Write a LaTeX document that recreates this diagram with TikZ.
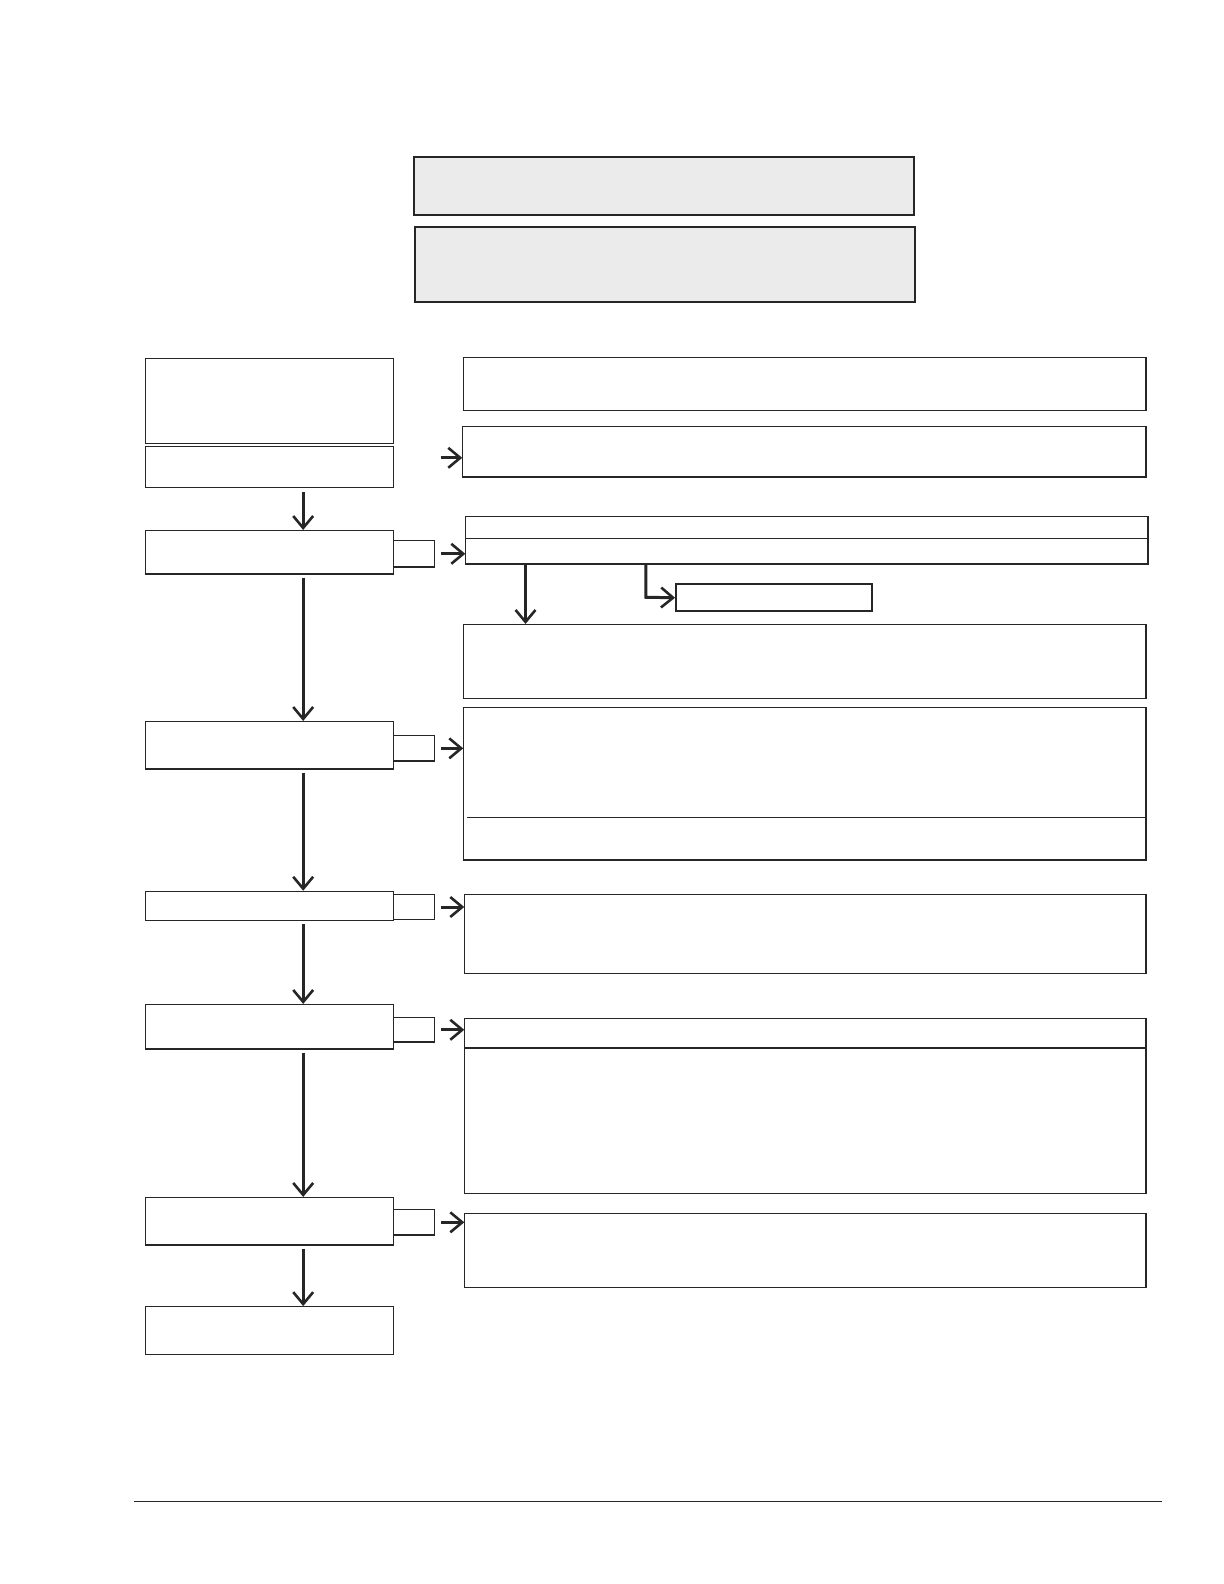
\documentclass[tikz,border=0pt]{standalone}
\usetikzlibrary{fit,arrows.meta}
\begin{document}
\begin{tikzpicture}[x=0.5053bp,y=-0.5053bp,
  box/.style={draw=black!85,line width=0.6pt,inner sep=0pt},
  gbox/.style={box,fill=black!8,line width=1pt},
  arr/.style={draw=black!85,line width=1.5pt,-{Straight Barb[length=6pt,width=10pt,line width=1.3pt]}}]
\useasboundingbox (0bp,0bp) rectangle (612bp,-792bp);
\newcommand{\bx}[6][box]{\node[#1,fit={(#3,#4)(#5,#6)}] (#2) {};}
\bx[gbox]{g1}{410}{155}{904}{213}
\bx[gbox]{g2}{411}{225}{905}{299}
% left column
\bx{L1}{144}{355}{389}{439}
\bx{L2}{144}{442}{389}{482}
\bx{L3}{144}{525}{389}{568}
\bx{L4}{144}{714}{389}{761}
\bx{L5}{144}{882}{389}{911}
\bx{L6}{144}{994}{389}{1038}
\bx{L7}{144}{1185}{389}{1232}
\bx{L8}{144}{1293}{389}{1340}
% tabs
\bx{T3}{389}{535}{430}{561}
\bx{T4}{389}{728}{430}{753}
\bx{T5}{389}{885}{430}{910}
\bx{T6}{389}{1007}{430}{1031}
\bx{T7}{389}{1197}{430}{1222}
% right
\bx{R1}{459}{354}{1134}{406}
\bx{R2}{458}{422}{1134}{472}
\bx{R3}{461}{511}{1136}{558}
\draw[black!85,line width=0.6pt] (461,533) -- (1136,533);
\node[box,line width=1pt,fit={(669,578)(863,605)}] (S) {};
\bx{R4}{459}{618}{1134}{691}
\bx{R5}{459}{700}{1134}{851}
\draw[black!85,line width=0.6pt] (462,809) -- (1134,809);
\bx{R6}{460}{885}{1134}{963}
\bx{R7}{460}{1008}{1134}{1181}
\draw[black!85,line width=0.6pt] (460,1037) -- (1134,1037);
\bx{R8}{460}{1201}{1134}{1274}
% right arrows
\coordinate (a2) at (436,453);
\draw[arr] (a2) -- (a2-|R2.west);
\draw[arr] ([xshift=3pt]T3.east) -- (T3.east-|R3.west);
\draw[arr] ([xshift=3pt]T4.east) -- (T4.east-|R5.west);
\draw[arr] ([xshift=3pt]T5.east) -- (T5.east-|R6.west);
\draw[arr] ([xshift=3pt]T6.east) -- (T6.east-|R7.west);
\draw[arr] ([xshift=3pt]T7.east) -- (T7.east-|R8.west);
% vertical arrows
\coordinate (c1) at (300,487);
\draw[arr] (c1) -- (c1|-L3.north);
\foreach \a/\b in {L3/L4,L4/L5,L5/L6,L6/L7,L7/L8}
  \draw[arr] ([yshift=-1.5pt]\a.south-|c1) -- (\b.north-|c1);
\draw[arr] (R3.south-|520,0) -- (R4.north-|520,0);
\draw[arr] (R3.south-|639,0) -- (639,591) -- (S.west);
\draw[black!85,line width=0.6pt] (133,1486) -- (1150,1486);
\end{tikzpicture}
\end{document}
